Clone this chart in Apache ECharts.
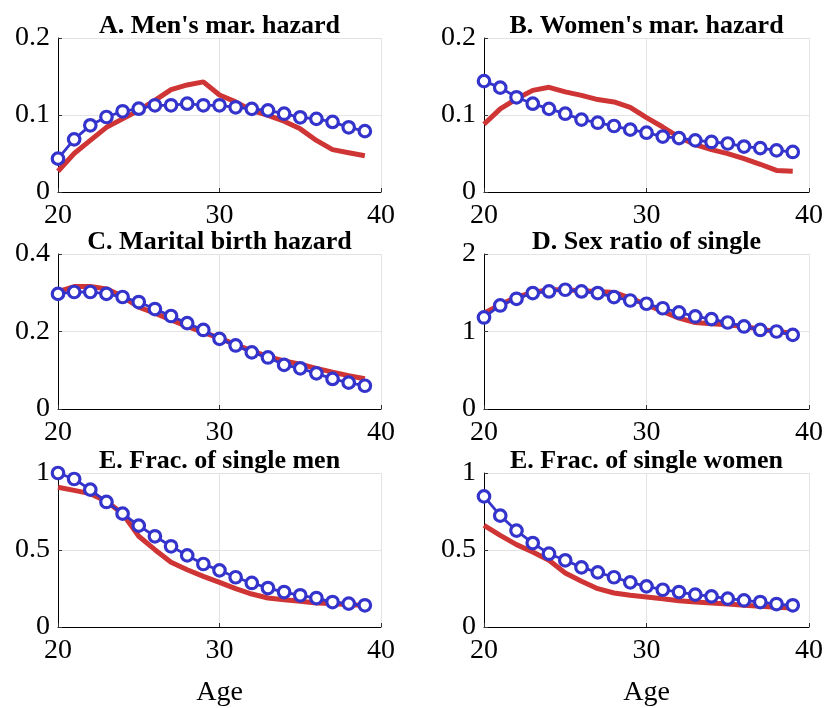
<!DOCTYPE html>
<html>
<head>
<meta charset="utf-8">
<script src="https://cdn.jsdelivr.net/npm/echarts@6/dist/echarts.min.js"></script>
<style>html,body{margin:0;padding:0;background:#fff;}#c{width:827px;height:708px;}</style>
</head>
<body>
<div id="c"></div>
<script>
var ages = [20,21,22,23,24,25,26,27,28,29,30,31,32,33,34,35,36,37,38,39];
var titles = ["A. Men's mar. hazard","B. Women's mar. hazard","C. Marital birth hazard","D. Sex ratio of single","E. Frac. of single men","E. Frac. of single women"];
var yMax = [0.2,0.2,0.4,2,1,1];
var yStep = [0.1,0.1,0.2,1,0.5,0.5];
var xTicks = [20,30,40];

var redA = [0.027,0.050,0.067,0.084,0.095,0.106,0.119,0.133,0.139,0.143,0.126,0.117,0.106,0.0996,0.092,0.082,0.067,0.055,0.051,0.047];
var blueA = [0.0433,0.0684,0.0866,0.0974,0.1048,0.1082,0.1126,0.1126,0.1147,0.1126,0.1126,0.110,0.108,0.106,0.1017,0.097,0.095,0.091,0.084,0.079];
var redB = [0.088,0.108,0.121,0.132,0.136,0.130,0.1255,0.120,0.117,0.110,0.0965,0.0844,0.0714,0.0615,0.055,0.0498,0.0433,0.036,0.028,0.027];
var blueB = [0.144,0.1355,0.123,0.1147,0.108,0.1017,0.094,0.090,0.0857,0.081,0.077,0.072,0.070,0.067,0.065,0.063,0.059,0.057,0.054,0.052];
var redC = [0.303,0.316,0.316,0.310,0.290,0.263,0.247,0.230,0.213,0.198,0.183,0.166,0.150,0.135,0.124,0.1155,0.105,0.095,0.086,0.078];
var blueC = [0.297,0.302,0.302,0.297,0.289,0.276,0.258,0.240,0.2215,0.204,0.181,0.164,0.146,0.133,0.114,0.105,0.092,0.0776,0.068,0.060];
var redD = [1.237,1.345,1.444,1.504,1.539,1.539,1.525,1.517,1.504,1.430,1.345,1.259,1.172,1.116,1.100,1.086,1.065,1.030,1.000,0.978];
var blueD = [1.181,1.336,1.422,1.496,1.517,1.539,1.517,1.496,1.444,1.400,1.358,1.300,1.246,1.194,1.160,1.116,1.065,1.020,1.000,0.957];
var redE = [0.907,0.887,0.866,0.816,0.736,0.589,0.502,0.420,0.372,0.329,0.290,0.249,0.214,0.188,0.177,0.167,0.156,0.152,0.145,0.141];
var blueE = [1.000,0.961,0.892,0.812,0.736,0.658,0.589,0.524,0.465,0.409,0.368,0.323,0.286,0.253,0.227,0.206,0.188,0.162,0.152,0.141];
var redF = [0.660,0.595,0.535,0.487,0.433,0.351,0.297,0.249,0.221,0.206,0.195,0.184,0.171,0.162,0.156,0.149,0.141,0.134,0.128,0.123];
var blueF = [0.848,0.723,0.626,0.545,0.476,0.433,0.387,0.355,0.323,0.290,0.264,0.242,0.227,0.210,0.199,0.184,0.173,0.162,0.149,0.141];

var reds = [redA,redB,redC,redD,redE,redF];
var blues = [blueA,blueB,blueC,blueD,blueE,blueF];

var gridPos = [
  {left:58, top:38, width:323, height:154},
  {left:484, top:38, width:325, height:154},
  {left:58, top:254, width:323, height:155},
  {left:484, top:254, width:325, height:155},
  {left:58, top:473, width:323, height:154},
  {left:484, top:473, width:325, height:154}
];

var FONT = "'Liberation Serif', 'Times New Roman', serif";
var grids = [], xAxes = [], yAxes = [], series = [], tts = [];
function pair(arr){ return ages.map(function(a,i){ return [a, arr[i]]; }); }

for (var i = 0; i < 6; i++) {
  var g = gridPos[i];
  grids.push({left:g.left, top:g.top, width:g.width, height:g.height, containLabel:false});
  tts.push({
    text: titles[i], left: g.left + g.width/2, top: g.top - 25, textAlign: 'center', padding: 0,
    textStyle: {fontFamily: FONT, fontWeight: 'bold', fontSize: 26, color: '#000'}
  });
  var xa = {
    type: 'value', gridIndex: i, min: 20, max: 40, interval: 10,
    axisLine: {show: true, onZero: false, lineStyle: {color: '#000', width: 1}},
    axisTick: {show: true, inside: true, length: 4, lineStyle: {color: '#333', width: 1}},
    axisLabel: {fontFamily: FONT, fontSize: 28, color: '#000', margin: 10},
    splitLine: {show: true, lineStyle: {color: '#e3e3e3', width: 1}}
  };
  if (i >= 4) {
    xa.name = 'Age'; xa.nameLocation = 'middle'; xa.nameGap = 52;
    xa.nameTextStyle = {fontFamily: FONT, fontSize: 28, color: '#000'};
  }
  xAxes.push(xa);
  yAxes.push({
    type: 'value', gridIndex: i, min: 0, max: yMax[i], interval: yStep[i],
    axisLine: {show: true, onZero: false, lineStyle: {color: '#000', width: 1}},
    axisTick: {show: true, inside: true, length: 4, lineStyle: {color: '#333', width: 1}},
    axisLabel: {fontFamily: FONT, fontSize: 28, color: '#000', margin: 8},
    splitLine: {show: true, lineStyle: {color: '#e3e3e3', width: 1}}
  });
  series.push({
    type: 'line', xAxisIndex: i, yAxisIndex: i, data: pair(reds[i]),
    showSymbol: false, symbol: 'none', lineStyle: {color: '#d03535', width: 5}, z: 2, animation: false
  });
  series.push({
    type: 'line', xAxisIndex: i, yAxisIndex: i, data: pair(blues[i]),
    symbol: 'circle', symbolSize: 11.5,
    lineStyle: {color: '#3434cc', width: 2.8},
    itemStyle: {color: '#ffffff', borderColor: '#3434cc', borderWidth: 3.2},
    z: 3, animation: false
  });
}

var chart = echarts.init(document.getElementById('c'), null, {renderer: 'canvas'});
chart.setOption({
  backgroundColor: '#fff',
  animation: false,
  title: tts,
  grid: grids,
  xAxis: xAxes,
  yAxis: yAxes,
  series: series
});
</script>
</body>
</html>
